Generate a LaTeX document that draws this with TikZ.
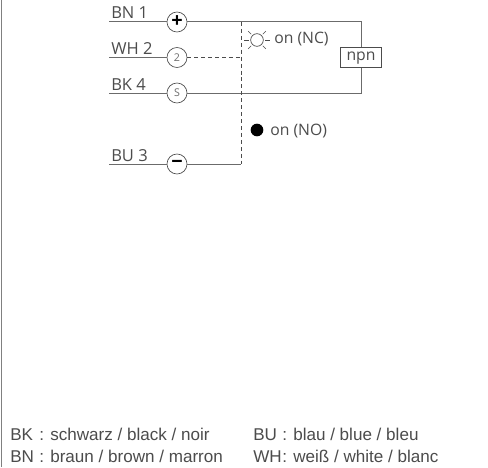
\documentclass[tikz,border=0pt]{standalone}
\usepackage{fontspec}
\setmainfont{Open Sans}
\newfontfamily\legendfont{Liberation Sans}
\definecolor{wire}{gray}{0.42}
\definecolor{txt}{gray}{0.3}
\tikzset{x=0.75pt,y=-0.75pt,
  wireline/.style={draw=wire,line width=0.75pt},
  dashline/.style={draw=txt,line width=0.5pt,dash pattern=on 3pt off 2.2pt},
  term/.style={circle,draw=txt,line width=0.5pt,fill=white,minimum size=15pt,inner sep=0pt,text=wire,font=\fontsize{8}{9}\selectfont},
  bigterm/.style={term,font=\fontsize{15}{15}\selectfont\bfseries,text=black},
  lab/.style={anchor=base west,inner sep=0pt,text=txt,font=\fontsize{12.4}{14}\selectfont},
  onlab/.style={anchor=base west,inner sep=0pt,text=txt,font=\fontsize{11.8}{14}\selectfont},
  leg/.style={anchor=base west,inner sep=0pt,text=txt,font=\legendfont\fontsize{12.8}{14}\selectfont},
  box/.style={draw=txt,fill=white,line width=0.5pt,minimum width=31pt,minimum height=14.5pt,inner sep=0pt,text height=6.5pt,text depth=1.3pt,text=txt,font=\fontsize{11.8}{14}\selectfont}}
\begin{document}
\begin{tikzpicture}
\useasboundingbox (0,0) rectangle (488,467);
\fill[white] (0,0) rectangle (488,467);
\draw[draw=gray,line width=1pt] (1.5,0) -- (1.5,467);
\coordinate (w1) at (109,22);
\coordinate (w2) at (109,57.5);
\coordinate (w3) at (109,93);
\coordinate (w4) at (109,164);
\coordinate (r1) at (361,22);
\coordinate (r3) at (361,93);
\coordinate (d1) at (241,22);
\coordinate (d2) at (241,57.5);
\coordinate (d3) at (241,164);
\node[bigterm] (p) at (177,22) {+};
\node[term] (two) at (177,57.5) {2};
\node[term] (s) at (177,93) {S};
\node[bigterm] (m) at (177,164) {\textminus};
\node[box] (npn) at (361,57.5) {npn};
\draw[wireline] (w1) -- (p) (p) -- (r1) -- (npn) -- (r3) -- (s) (s) -- (w3);
\draw[wireline] (w2) -- (two);
\draw[wireline] (w4) -- (m);
\draw[wireline] (m) -- (d3);
\draw[dashline] (two) -- (d2);
\draw[dashline] (d1) -- (d3);
\node[box] at (npn) {npn};
\node[lab] (t1) at (111,19) {BN 1};
\node[lab] (t2) at (111,54.5) {WH 2};
\node[lab] (t3) at (111,90) {BK 4};
\node[lab] (t4) at (111,161) {BU 3};
% lamp
\node[circle,draw=txt,line width=0.5pt,minimum size=9.5pt,inner sep=0pt] (lamp) at (257,40) {};
\foreach \a in {0,45,135,180,225,315}
  \draw[draw=txt,line width=0.4pt] (lamp.\a) ++(\a:1.2pt) -- ++(\a:3.2pt);
\node[onlab] (on1) at (274,44) {on (NC)};
\node[circle,fill=black,minimum size=9.5pt,inner sep=0pt] (led) at (257,130) {};
\node[onlab] (on2) at (270,135) {on (NO)};
\node[leg] (l1) at (10,440) {BK};
\node[leg] (c1) at (39,440) {:};
\node[leg] (x1) at (50,440) {schwarz / black / noir};
\node[leg] (l2) at (10,462) {BN};
\node[leg] (c2) at (39,462) {:};
\node[leg] (x2) at (50,462) {braun / brown / marron};
\node[leg] (l3) at (253,440) {BU};
\node[leg] (c3) at (282,440) {:};
\node[leg] (x3) at (293,440) {blau / blue / bleu};
\node[leg] (l4) at (253,462) {WH};
\node[leg] (c4) at (282,462) {:};
\node[leg] (x4) at (293,462) {weiß / white / blanc};
\end{tikzpicture}
\end{document}
